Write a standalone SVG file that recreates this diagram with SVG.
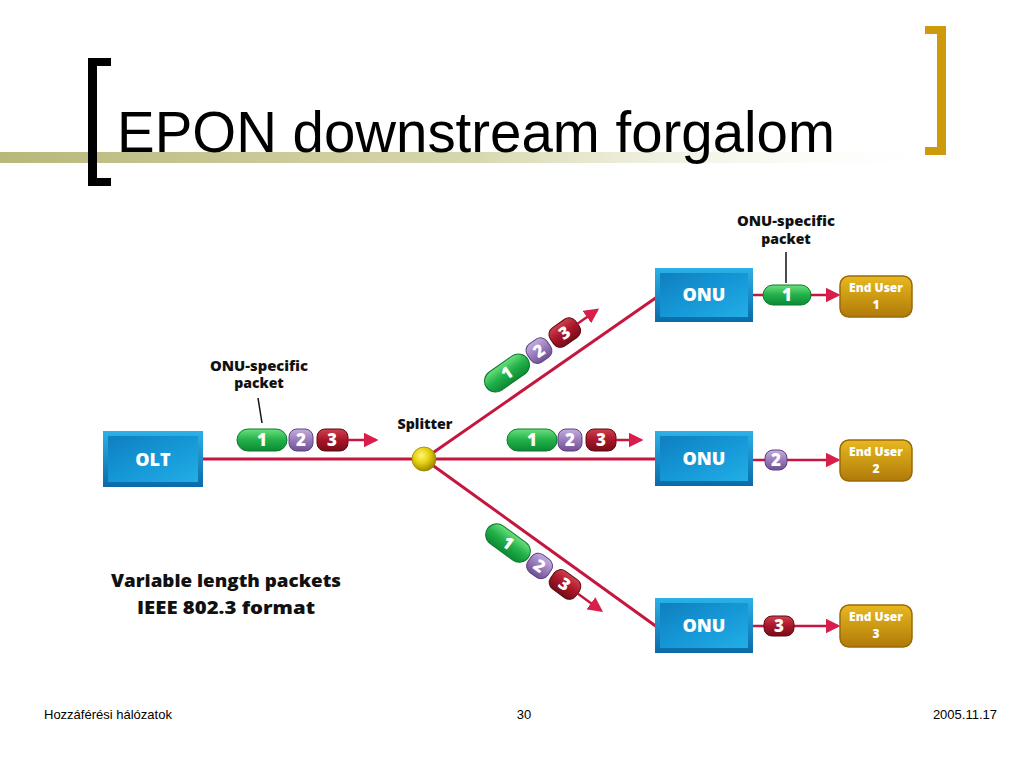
<svg xmlns="http://www.w3.org/2000/svg" width="1024" height="768" viewBox="0 0 1024 768">
<defs>
<linearGradient id="band" x1="0" y1="0" x2="1" y2="0">
<stop offset="0" stop-color="#b8b87a"/>
<stop offset="0.5" stop-color="#d8d8b0"/>
<stop offset="1" stop-color="#ffffff" stop-opacity="0"/>
</linearGradient>
<linearGradient id="boxOuter" x1="0" y1="0" x2="0" y2="1">
<stop offset="0" stop-color="#2bb2e6"/>
<stop offset="1" stop-color="#0b6aa8"/>
</linearGradient>
<linearGradient id="boxInner" x1="0" y1="0" x2="1" y2="1">
<stop offset="0" stop-color="#0f7fc0"/>
<stop offset="0.5" stop-color="#1597d6"/>
<stop offset="1" stop-color="#22aee6"/>
</linearGradient>
<linearGradient id="gold" x1="0" y1="0" x2="0" y2="1">
<stop offset="0" stop-color="#e8b820"/>
<stop offset="1" stop-color="#b07a08"/>
</linearGradient>
<linearGradient id="green" x1="0" y1="0" x2="0" y2="1">
<stop offset="0" stop-color="#6be07c"/>
<stop offset="0.5" stop-color="#22b04a"/>
<stop offset="1" stop-color="#0d8a34"/>
</linearGradient>
<linearGradient id="purple" x1="0" y1="0" x2="0" y2="1">
<stop offset="0" stop-color="#c4aee0"/>
<stop offset="0.5" stop-color="#9a7cbc"/>
<stop offset="1" stop-color="#6f5094"/>
</linearGradient>
<linearGradient id="red" x1="0" y1="0" x2="0" y2="1">
<stop offset="0" stop-color="#d0404c"/>
<stop offset="0.5" stop-color="#a8162a"/>
<stop offset="1" stop-color="#760c18"/>
</linearGradient>
<radialGradient id="ball" cx="0.4" cy="0.35" r="0.65">
<stop offset="0" stop-color="#fff57a"/>
<stop offset="0.5" stop-color="#e6d010"/>
<stop offset="1" stop-color="#a08a00"/>
</radialGradient>
<marker id="arr" markerWidth="6" markerHeight="6" refX="5" refY="3" orient="auto" markerUnits="strokeWidth">
<path d="M0,0 L6,3 L0,6 Z" fill="#d81e4a"/>
</marker>
<style>
.title{font-family:"Liberation Sans",Arial,sans-serif;font-size:57px;fill:#000}
.foot{font-family:"Liberation Sans",Arial,sans-serif;font-size:13px;fill:#000}
.lbl{font-family:"Open Sans","DejaVu Sans",sans-serif;font-weight:800;font-size:14px;fill:#111;text-anchor:middle}
.big{font-family:"Open Sans","DejaVu Sans",sans-serif;font-weight:800;font-size:18px;fill:#111;text-anchor:middle}
.boxt{font-family:"Open Sans","DejaVu Sans",sans-serif;font-weight:800;font-size:18px;fill:#fff;text-anchor:middle}
.eut{font-family:"Open Sans","DejaVu Sans",sans-serif;font-weight:800;font-size:12px;fill:#fff;text-anchor:middle}
.pn{font-family:"Open Sans","DejaVu Sans",sans-serif;font-weight:800;font-size:17px;fill:#fff;text-anchor:middle}
.fiber{stroke:#c4163e;stroke-width:3;fill:none}
.thin{stroke:#c4163e;stroke-width:2.5;fill:none}
.pg{fill:url(#green);stroke:#0b7a2c;stroke-width:1}
.pp{fill:url(#purple);stroke:#5e427f;stroke-width:1}
.pr{fill:url(#red);stroke:#5e0a12;stroke-width:1}
</style>
</defs>

<rect width="1024" height="768" fill="#ffffff"/>

<!-- title decoration -->
<rect x="0" y="152" width="960" height="11" fill="url(#band)"/>
<path d="M111,58 H88 V186 H111 V178 H97 V66 H111 Z" fill="#000"/>
<path d="M925,26 H946 V155 H925 V147 H937 V34 H925 Z" fill="#cc9a0a"/>
<text class="title" x="117" y="152" textLength="718" lengthAdjust="spacingAndGlyphs">EPON downstream forgalom</text>

<!-- connectors -->
<g id="connectors">
<line class="fiber" x1="203" y1="459" x2="655" y2="459"/>
<line class="fiber" x1="424" y1="459" x2="657" y2="297"/>
<line class="fiber" x1="424" y1="459" x2="657" y2="627"/>
<line class="thin" x1="753" y1="295" x2="838" y2="295" marker-end="url(#arr)"/>
<line class="thin" x1="753" y1="460" x2="838" y2="460" marker-end="url(#arr)"/>
<line class="thin" x1="753" y1="626" x2="838" y2="626" marker-end="url(#arr)"/>
<line x1="258" y1="398" x2="262" y2="423" stroke="#111" stroke-width="1.5"/>
<line x1="786" y1="252" x2="786" y2="283" stroke="#111" stroke-width="1.5"/>
</g>

<!-- OLT -->
<g id="olt">
<rect x="103" y="431" width="100" height="56" fill="url(#boxOuter)"/>
<rect x="108" y="436" width="90" height="46" fill="url(#boxInner)"/>
<text class="boxt" x="153" y="466">OLT</text>
</g>

<!-- Splitter -->
<g id="splitter">
<circle cx="424" cy="459" r="12" fill="url(#ball)" stroke="#9a8400" stroke-width="0.8"/>
<text class="lbl" x="425" y="429" textLength="55" lengthAdjust="spacingAndGlyphs">Splitter</text>
</g>

<!-- ONUs -->
<g id="onu1">
<rect x="655" y="268" width="98" height="54" fill="url(#boxOuter)"/>
<rect x="660" y="273" width="88" height="44" fill="url(#boxInner)"/>
<text class="boxt" x="704" y="301">ONU</text>
</g>
<g id="onu2">
<rect x="655" y="431" width="98" height="55" fill="url(#boxOuter)"/>
<rect x="660" y="436" width="88" height="45" fill="url(#boxInner)"/>
<text class="boxt" x="704" y="465">ONU</text>
</g>
<g id="onu3">
<rect x="655" y="598" width="98" height="55" fill="url(#boxOuter)"/>
<rect x="660" y="603" width="88" height="45" fill="url(#boxInner)"/>
<text class="boxt" x="704" y="632">ONU</text>
</g>

<!-- End users -->
<g id="eu1">
<rect x="840" y="276" width="72" height="41" rx="9" fill="url(#gold)" stroke="#9a6a06" stroke-width="1.5"/>
<text class="eut" x="876" y="292">End User</text>
<text class="eut" x="876" y="309">1</text>
</g>
<g id="eu2">
<rect x="840" y="440" width="72" height="41" rx="9" fill="url(#gold)" stroke="#9a6a06" stroke-width="1.5"/>
<text class="eut" x="876" y="456">End User</text>
<text class="eut" x="876" y="473">2</text>
</g>
<g id="eu3">
<rect x="840" y="605" width="72" height="42" rx="9" fill="url(#gold)" stroke="#9a6a06" stroke-width="1.5"/>
<text class="eut" x="876" y="621">End User</text>
<text class="eut" x="876" y="638">3</text>
</g>

<!-- packets OLT row -->
<g id="packets-olt" transform="translate(262,440)">
<rect class="pg" x="-25" y="-11" width="50" height="22" rx="11"/>
<text class="pn" x="0" y="6">1</text>
<rect class="pp" x="27" y="-11" width="24" height="22" rx="8"/>
<text class="pn" x="39" y="6">2</text>
<rect class="pr" x="55" y="-11" width="31" height="22" rx="8"/>
<text class="pn" x="70" y="6">3</text>
<line class="thin" x1="86" y1="0" x2="114" y2="0" marker-end="url(#arr)"/>
</g>
<text class="lbl" x="259" y="371" textLength="98" lengthAdjust="spacingAndGlyphs">ONU-specific</text>
<text class="lbl" x="259" y="388">packet</text>

<!-- packets middle row -->
<g id="packets-mid" transform="translate(532,440)">
<rect class="pg" x="-25" y="-11" width="50" height="22" rx="11"/>
<text class="pn" x="0" y="6">1</text>
<rect class="pp" x="26" y="-11" width="24" height="22" rx="8"/>
<text class="pn" x="38" y="6">2</text>
<rect class="pr" x="54" y="-11" width="30" height="22" rx="8"/>
<text class="pn" x="69" y="6">3</text>
<line class="thin" x1="84" y1="0" x2="109" y2="0" marker-end="url(#arr)"/>
</g>

<!-- packets upper diagonal -->
<g id="packets-up" transform="translate(507,373) rotate(-35)">
<rect class="pg" x="-25" y="-11" width="50" height="22" rx="11"/>
<text class="pn" x="0" y="6">1</text>
<rect class="pp" x="27" y="-11" width="24" height="22" rx="8"/>
<text class="pn" x="39" y="6">2</text>
<rect class="pr" x="55" y="-11" width="31" height="22" rx="8"/>
<text class="pn" x="70" y="6">3</text>
<line class="thin" x1="86" y1="0" x2="110" y2="0" marker-end="url(#arr)"/>
</g>

<!-- packets lower diagonal -->
<g id="packets-down" transform="translate(508,543) rotate(36)">
<rect class="pg" x="-25" y="-11" width="50" height="22" rx="11"/>
<text class="pn" x="0" y="6">1</text>
<rect class="pp" x="27" y="-11" width="24" height="22" rx="8"/>
<text class="pn" x="39" y="6">2</text>
<rect class="pr" x="55" y="-11" width="31" height="22" rx="8"/>
<text class="pn" x="70" y="6">3</text>
<line class="thin" x1="86" y1="0" x2="115" y2="0" marker-end="url(#arr)"/>
</g>

<!-- ONU outputs -->
<g id="packet-onu1">
<rect class="pg" x="763" y="285" width="48" height="20" rx="10"/>
<text class="pn" x="787" y="301">1</text>
</g>
<text class="lbl" x="786" y="226" textLength="98" lengthAdjust="spacingAndGlyphs">ONU-specific</text>
<text class="lbl" x="786" y="244">packet</text>
<g id="packet-onu2">
<rect class="pp" x="765" y="450" width="22" height="20" rx="8"/>
<text class="pn" x="776" y="466">2</text>
</g>
<g id="packet-onu3">
<rect class="pr" x="764" y="616" width="30" height="20" rx="8"/>
<text class="pn" x="779" y="632">3</text>
</g>

<text class="big" x="226" y="587" textLength="230" lengthAdjust="spacingAndGlyphs">Variable length packets</text>
<text class="big" x="226" y="614" textLength="178" lengthAdjust="spacingAndGlyphs">IEEE 802.3 format</text>

<!-- footer -->
<text class="foot" x="44" y="719">Hozzáférési hálózatok</text>
<text class="foot" x="524" y="719" text-anchor="middle">30</text>
<text class="foot" x="997" y="719" text-anchor="end">2005.11.17</text>
</svg>
